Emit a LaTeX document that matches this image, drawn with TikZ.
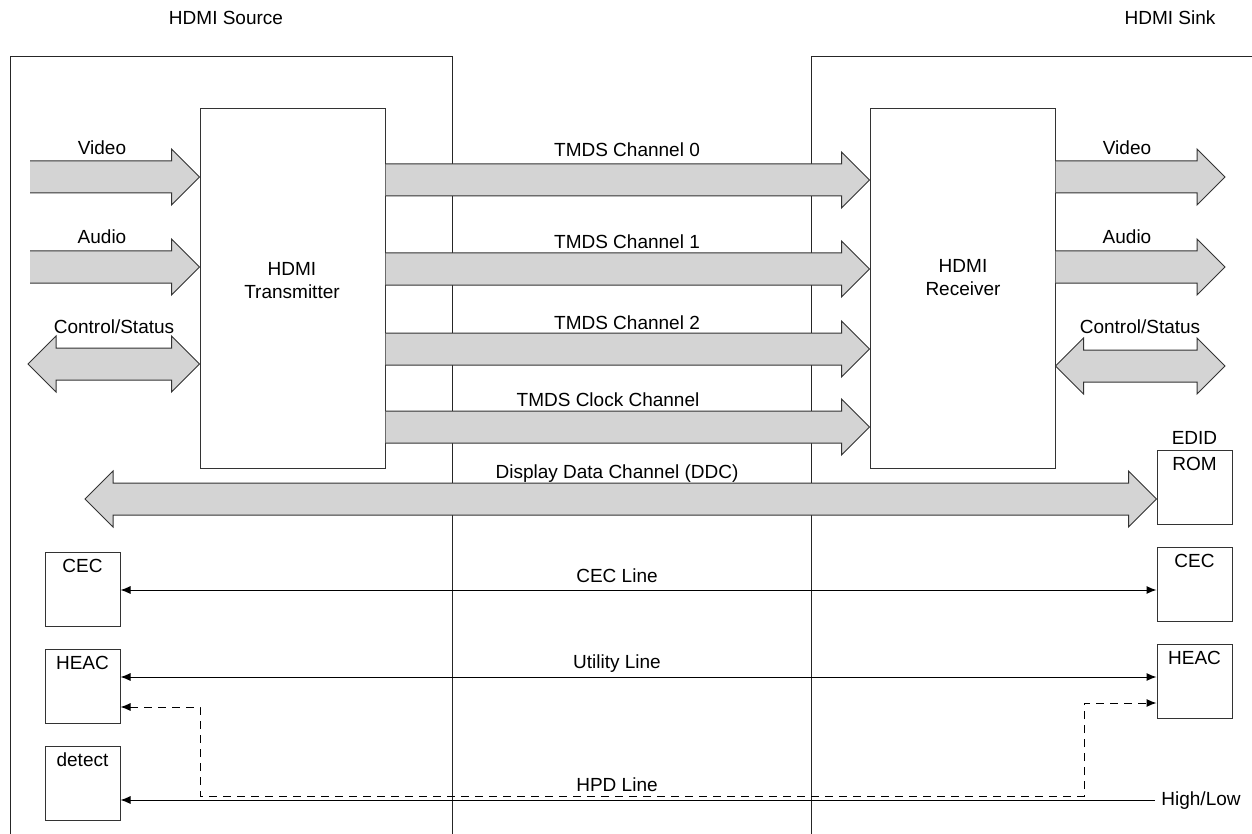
\documentclass[tikz,border=0pt]{standalone}
\usepackage{fontspec}
\setmainfont{Liberation Sans}
\usepackage{tikz}
\usetikzlibrary{arrows.meta, calc, positioning}
\definecolor{busgray}{RGB}{212,212,212}
\tikzstyle{block} = [draw=black!80, line width=0.5pt, rectangle, fill=white, inner sep=0pt]
\tikzstyle{unit} = [block, minimum width=37.5pt, minimum height=37pt]
\tikzstyle{bus} = [draw=black!80, line width=0.5pt, fill=busgray, line join=miter]
\tikzstyle{wire} = [line width=0.5pt, black]
\tikzstyle{frame} = [line width=0.5pt, black!85]
\tikzstyle{lbl} = [anchor=base, inner sep=0pt]

% wide one-way bus arrow, horizontal, from #1 to #2
\newcommand{\busarrow}[2]{%
  \draw[bus] let \p1=#1, \p2=#2 in
    (\x1,\y1+8pt) -- (\x2-14pt,\y1+8pt) -- (\x2-14pt,\y1+14pt) -- (\x2,\y1)
    -- (\x2-14pt,\y1-14pt) -- (\x2-14pt,\y1-8pt) -- (\x1,\y1-8pt);}
% wide two-way bus arrow
\newcommand{\busdarrow}[2]{%
  \draw[bus] let \p1=#1, \p2=#2 in
    (\x1,\y1) -- (\x1+14pt,\y1+14pt) -- (\x1+14pt,\y1+8pt) -- (\x2-14pt,\y1+8pt)
    -- (\x2-14pt,\y1+14pt) -- (\x2,\y1) -- (\x2-14pt,\y1-14pt) -- (\x2-14pt,\y1-8pt)
    -- (\x1+14pt,\y1-8pt) -- (\x1+14pt,\y1-14pt) -- cycle;}

\begin{document}
\begin{tikzpicture}[x=0.5pt, y=-0.5pt, font=\fontsize{9.5}{11.5}\selectfont, >={Latex[length=5pt,width=4pt]}]
    \useasboundingbox (0,0) rectangle (1252,834);

    % Source and sink outlines
    \draw[frame] (10,834) -- (10,57) -- (452,57) -- (452,834);
    \draw[frame] (1252,57) -- (811,57) -- (811,834);
    \node[lbl] (srctitle) at (226,24.5) {HDMI Source};
    \node[lbl] (snktitle) at (1170,24.5) {HDMI Sink};

    % Transmitter and receiver
    \node[block, minimum width=92.5pt, minimum height=179.5pt] (tx) at (292.5,288.5) {};
    \node[block, minimum width=92.5pt, minimum height=179.5pt] (rx) at (962.5,288.5) {};
    \node[align=center] (txtext) at (292,281) {HDMI\\Transmitter};
    \node[align=center] (rxtext) at (963,278) {HDMI\\Receiver};

    % Small function blocks
    \node[unit] (srccec) at (82.5,589) {};
    \node[unit] (srcheac) at (82.5,686) {};
    \node[unit] (srcdet) at (82.5,783) {};
    \node[unit] (edid) at (1194.5,487) {};
    \node[unit] (snkcec) at (1194.5,584) {};
    \node[unit] (snkheac) at (1194.5,681) {};
    \node[lbl] (srccect) at ([yshift=-10.5pt]srccec.north) {CEC};
    \node[lbl] (srcheact) at ([yshift=-10.5pt]srcheac.north) {HEAC};
    \node[lbl] (srcdett) at ([yshift=-10.5pt]srcdet.north) {detect};
    \node[lbl] (edidt) at ([yshift=2.5pt]edid.north) {EDID};
    \node[lbl] (romt) at ([yshift=-10.5pt]edid.north) {ROM};
    \node[lbl] (snkcect) at ([yshift=-10.5pt]snkcec.north) {CEC};
    \node[lbl] (snkheact) at ([yshift=-10.5pt]snkheac.north) {HEAC};

    % Bus rows
    \coordinate (vidin) at (30,177);
    \coordinate (audin) at (30,267);
    \coordinate (ctlin) at (28,364);
    \coordinate (vidout) at (1225,177);
    \coordinate (audout) at (1225,267);
    \coordinate (ctlout) at (1225,366);
    \coordinate (ch0) at (0,180);
    \coordinate (ch1) at (0,269);
    \coordinate (ch2) at (0,349);
    \coordinate (clk) at (0,427);
    \coordinate (ddcend) at (85,499);

    % Source side buses
    \busarrow{(vidin)}{(tx.west |- vidin)}
    \busarrow{(audin)}{(tx.west |- audin)}
    \busdarrow{(ctlin)}{(tx.west |- ctlin)}
    \node[lbl] (vidinl) at (102,155) {Video};
    \node[lbl] (audinl) at (102,243) {Audio};
    \node[lbl] (ctlinl) at (114,333) {Control/Status};

    % TMDS channels
    \busarrow{(tx.east |- ch0)}{(rx.west |- ch0)}
    \busarrow{(tx.east |- ch1)}{(rx.west |- ch1)}
    \busarrow{(tx.east |- ch2)}{(rx.west |- ch2)}
    \busarrow{(tx.east |- clk)}{(rx.west |- clk)}
    \node[lbl] (ch0l) at (627,157) {TMDS Channel 0};
    \node[lbl] (ch1l) at (627,249) {TMDS Channel 1};
    \node[lbl] (ch2l) at (627,329) {TMDS Channel 2};
    \node[lbl] (clkl) at (608,406) {TMDS Clock Channel};

    % Sink side buses
    \busarrow{(rx.east |- vidout)}{(vidout)}
    \busarrow{(rx.east |- audout)}{(audout)}
    \busdarrow{(rx.east |- ctlout)}{(ctlout)}
    \node[lbl] (vidoutl) at (1127,155) {Video};
    \node[lbl] (audoutl) at (1127,243) {Audio};
    \node[lbl] (ctloutl) at (1140,333) {Control/Status};

    % DDC
    \busdarrow{(ddcend)}{(edid.west |- ddcend)}
    \node[lbl] (ddcl) at (617,478.5) {Display Data Channel (DDC)};

    % Single lines
    \draw[wire, <->] (srccec.east |- 0,590) -- (snkcec.west |- 0,590);
    \node[lbl] (cecl) at (617,582.5) {CEC Line};
    \draw[wire, <->] (srcheac.east |- 0,677) -- (snkheac.west |- 0,677);
    \node[lbl] (utill) at (617,668.5) {Utility Line};
    \draw[wire, <->, dash pattern=on 4pt off 3pt] (srcheac.east |- 0,707) -| (200,796) -| (1084,703) -- (snkheac.west |- 0,703);
    \node[anchor=base west, inner sep=0pt] (hilo) at (1161,805) {High/Low};
    \draw[wire, <-] (srcdet.east |- 0,800) -- ([xshift=-3pt]hilo.west |- 0,800);
    \node[lbl] (hpdl) at (617,791.5) {HPD Line};
\end{tikzpicture}
\end{document}
